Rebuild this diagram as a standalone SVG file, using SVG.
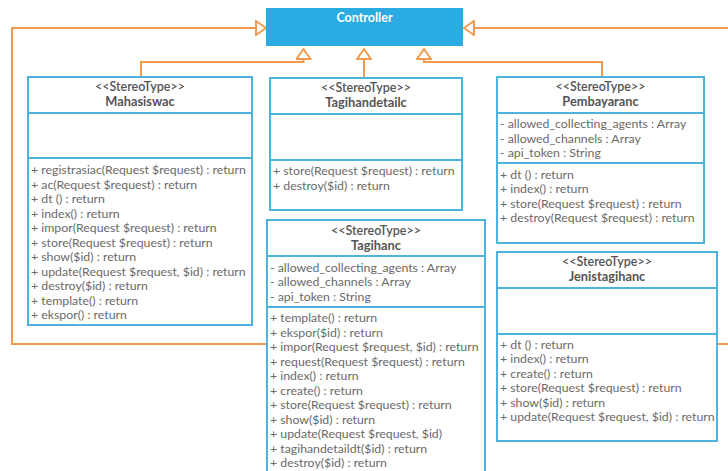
<svg xmlns="http://www.w3.org/2000/svg" width="728" height="471" viewBox="0 0 728 471">
<defs>
<style>
.box{fill:#fff;stroke:#4db3dc;stroke-width:2}
.div{stroke:#4db3dc;stroke-width:2}
.st{font-family:Lato,"Liberation Sans",sans-serif;font-size:12.5px;fill:#555;font-weight:600;text-anchor:middle}
.nm{font-family:Lato,"Liberation Sans",sans-serif;font-size:12.8px;fill:#555;font-weight:700;text-anchor:middle}
.m{font-family:Lato,"Liberation Sans",sans-serif;font-size:12.3px;fill:#6a6a6a}
.conn{fill:none;stroke:#f29b50;stroke-width:2;marker-end:url(#tri)}
</style>
<marker id="tri" markerUnits="userSpaceOnUse" markerWidth="12" markerHeight="16" refX="10" refY="7" orient="auto" viewBox="-1 -1 12 16">
<path d="M0,0 L10,7 L0,14 Z" fill="#fff" stroke="#f29b50" stroke-width="2"/>
</marker>
</defs>

<g id="connectors">
<path class="conn" d="M141,77 V62 H303.5 V49"/>
<path class="conn" d="M364,78 V49"/>
<path class="conn" d="M602,77 V62 H424 V49"/>
<path class="conn" d="M267,344 H12 V28 H266"/>
<path class="conn" d="M717,344 H734 V28 H464"/>
</g>

<g id="controller">
<rect x="266" y="8" width="197" height="38" fill="#2aabe2"/>
<text x="364.5" y="21.5" font-family="Lato,'Liberation Sans',sans-serif" font-size="12.5px" font-weight="700" fill="#fff" text-anchor="middle">Controller</text>
</g>

<g id="mahasiswac">
<rect class="box" x="28" y="77" width="224" height="248"/>
<line class="div" x1="28" y1="113" x2="252" y2="113"/>
<line class="div" x1="28" y1="158" x2="252" y2="158"/>
<text class="st" x="140" y="91">&lt;&lt;StereoType&gt;&gt;</text>
<text class="nm" x="140" y="106">Mahasiswac</text>
<text class="m" x="31" y="174">+ registrasiac(Request $request) : return</text>
<text class="m" x="31" y="188.5">+ ac(Request $request) : return</text>
<text class="m" x="31" y="203">+ dt () : return</text>
<text class="m" x="31" y="217.5">+ index()  : return</text>
<text class="m" x="31" y="232">+ impor(Request $request) : return</text>
<text class="m" x="31" y="246.5">+ store(Request $request) : return</text>
<text class="m" x="31" y="261">+ show($id) : return</text>
<text class="m" x="31" y="275.5">+ update(Request $request, $id) : return</text>
<text class="m" x="31" y="290">+ destroy($id) : return</text>
<text class="m" x="31" y="304.5">+ template() : return</text>
<text class="m" x="31" y="319">+ ekspor() : return</text>
</g>

<g id="tagihandetailc">
<rect class="box" x="270" y="78" width="192" height="132"/>
<line class="div" x1="270" y1="114" x2="462" y2="114"/>
<line class="div" x1="270" y1="160" x2="462" y2="160"/>
<text class="st" x="366" y="92">&lt;&lt;StereoType&gt;&gt;</text>
<text class="nm" x="366" y="107">Tagihandetailc</text>
<text class="m" x="273" y="175">+ store(Request $request) : return</text>
<text class="m" x="273" y="189.5">+ destroy($id) : return</text>
</g>

<g id="pembayaranc">
<rect class="box" x="497" y="77" width="207" height="166"/>
<line class="div" x1="497" y1="113" x2="704" y2="113"/>
<line class="div" x1="497" y1="163" x2="704" y2="163"/>
<text class="st" x="600.5" y="91">&lt;&lt;StereoType&gt;&gt;</text>
<text class="nm" x="600.5" y="106">Pembayaranc</text>
<text class="m" x="500" y="128">- allowed_collecting_agents : Array</text>
<text class="m" x="500" y="142.5">- allowed_channels : Array</text>
<text class="m" x="500" y="157">- api_token : String</text>
<text class="m" x="500" y="178.5">+ dt () : return</text>
<text class="m" x="500" y="193">+ index()  : return</text>
<text class="m" x="500" y="207.5">+ store(Request $request) : return</text>
<text class="m" x="500" y="222">+ destroy(Request $request) : return</text>
</g>

<g id="tagihanc">
<rect class="box" x="267" y="220" width="218" height="260"/>
<line class="div" x1="267" y1="256" x2="485" y2="256"/>
<line class="div" x1="267" y1="307" x2="485" y2="307"/>
<text class="st" x="376" y="235">&lt;&lt;StereoType&gt;&gt;</text>
<text class="nm" x="376" y="249.5">Tagihanc</text>
<text class="m" x="270" y="271.5">- allowed_collecting_agents : Array</text>
<text class="m" x="270" y="286">- allowed_channels : Array</text>
<text class="m" x="270" y="300.5">- api_token : String</text>
<text class="m" x="270" y="322">+ template() : return</text>
<text class="m" x="270" y="336.5">+ ekspor($id) : return</text>
<text class="m" x="270" y="351">+ impor(Request $request, $id) : return</text>
<text class="m" x="270" y="365.5">+ request(Request $request) : return</text>
<text class="m" x="270" y="380">+ index()  : return</text>
<text class="m" x="270" y="394.5">+ create() : return</text>
<text class="m" x="270" y="409">+ store(Request $request) : return</text>
<text class="m" x="270" y="423.5">+ show($id) : return</text>
<text class="m" x="270" y="438">+ update(Request $request, $id)</text>
<text class="m" x="270" y="452.5">+ tagihandetaildt($id) : return</text>
<text class="m" x="270" y="467">+ destroy($id) : return</text>
</g>

<g id="jenistagihanc">
<rect class="box" x="497" y="252" width="220" height="189"/>
<line class="div" x1="497" y1="288" x2="717" y2="288"/>
<line class="div" x1="497" y1="334" x2="717" y2="334"/>
<text class="st" x="607" y="266">&lt;&lt;StereoType&gt;&gt;</text>
<text class="nm" x="607" y="281">Jenistagihanc</text>
<text class="m" x="500" y="348.5">+ dt () : return</text>
<text class="m" x="500" y="363">+ index()  : return</text>
<text class="m" x="500" y="377.5">+ create() : return</text>
<text class="m" x="500" y="392">+ store(Request $request) : return</text>
<text class="m" x="500" y="406.5">+ show($id) : return</text>
<text class="m" x="500" y="421">+ update(Request $request, $id) : return</text>
</g>
</svg>
